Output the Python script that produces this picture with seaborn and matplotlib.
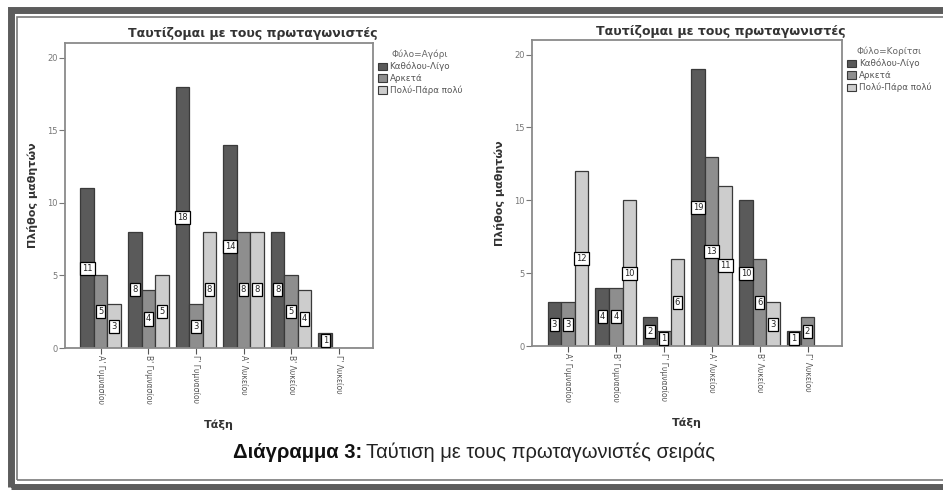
import pandas as pd
import numpy as np
import matplotlib.pyplot as plt
import seaborn as sns
from matplotlib.patches import Rectangle, Patch

# Data
classes = ["Α' Γυμνασίου", "Β' Γυμνασίου", "Γ' Γυμνασίου",
           "Α' Λυκείου", "Β' Λυκείου", "Γ' Λυκείου"]
levels = ["Καθόλου-Λίγο", "Αρκετά", "Πολύ-Πάρα πολύ"]

boys_little = [11, 8, 18, 14, 8, 1]
boys_enough = [5, 4, 3, 8, 5, 0]
boys_much = [3, 5, 8, 8, 4, 0]

girls_little = [3, 4, 2, 19, 10, 1]
girls_enough = [3, 4, 1, 13, 6, 2]
girls_much = [12, 10, 6, 11, 3, 0]

y_ticks = [0, 5, 10, 15, 20]
colors = ["#5a5a5a", "#8e8e8e", "#cdcdcd"]

sns.set_style("white")
plt.rcParams['font.family'] = ['DejaVu Sans']

W, H = 943, 490
fig = plt.figure(figsize=(W / 100, H / 100), dpi=100)


def frac(x, y):
    return x / W, 1 - y / H


def make_df(little, enough, much):
    rows = []
    for lev, vals in zip(levels, [little, enough, much]):
        for c, v in zip(classes, vals):
            rows.append({"Τάξη": c, "Επίπεδο": lev, "Πλήθος": v})
    return pd.DataFrame(rows)


def draw_panel(rect, df, legend_title, title_x, title_y):
    ax = fig.add_axes(rect)
    sns.barplot(data=df, x="Τάξη", y="Πλήθος", hue="Επίπεδο",
                hue_order=levels, order=classes, palette=colors,
                width=0.85, edgecolor="#3a3a3a", linewidth=0.9,
                ax=ax, legend=False)
    for cont, lev in zip(ax.containers, levels):
        vals = df[df["Επίπεδο"] == lev]["Πλήθος"].tolist()
        labs = [str(v) if v > 0 else "" for v in vals]
        ax.bar_label(cont, labels=labs, label_type="center", fontsize=6,
                     color="#222222",
                     bbox=dict(boxstyle="square,pad=0.25", fc="white",
                               ec="black", lw=0.9))
    ax.set_ylim(0, 21)
    ax.set_xlim(-0.75, 5.72)
    ax.set_yticks(y_ticks)
    ax.tick_params(axis="y", labelsize=6, colors="#777777", length=4,
                   width=0.8, left=True, pad=1)
    ax.tick_params(axis="x", labelsize=5.5, colors="#555555", length=4,
                   width=0.8, bottom=True, pad=1)
    for lab in ax.get_xticklabels():
        lab.set_rotation(270)
        lab.set_va("top")
        lab.set_ha("center")
    for s in ax.spines.values():
        s.set_color("#8a8a8a")
        s.set_linewidth(1.3)
    ax.set_ylabel("Πλήθος μαθητών", fontsize=8, fontweight="bold",
                  color="#333333", labelpad=7)
    ax.set_xlabel("Τάξη", fontsize=8, fontweight="bold", color="#333333",
                  labelpad=11)
    handles = [Patch(facecolor=c, edgecolor="#3a3a3a", lw=0.8) for c in colors]
    leg = ax.legend(handles, levels, title=legend_title, loc="upper left",
                    bbox_to_anchor=(1.0, 0.995), frameon=False, fontsize=6.3,
                    title_fontsize=6.5, handlelength=1.0, handleheight=0.9,
                    handletextpad=0.3, labelspacing=0.3, borderaxespad=0.2)
    leg.get_title().set_color("#666666")
    for t in leg.get_texts():
        t.set_color("#555555")
    fig.text(*frac(title_x, title_y), "Ταυτίζομαι με τους πρωταγωνιστές",
             ha="center", va="center", fontsize=9, fontweight="bold",
             color="#333333")
    return ax


l, top = frac(65, 43)
_, bot = frac(373, 348)
draw_panel([l, bot, 308 / W, top - bot], make_df(boys_little, boys_enough, boys_much),
           "Φύλο=Αγόρι", 253, 34)

l, top = frac(532, 40)
_, bot = frac(842, 346)
draw_panel([l, bot, 310 / W, top - bot], make_df(girls_little, girls_enough, girls_much),
           "Φύλο=Κορίτσι", 721, 32)

# caption
fig.text(*frac(362, 452), "Διάγραμμα 3:", ha="right", va="center",
         fontsize=14.5, fontweight="bold", family="Liberation Sans",
         color="#111111")
fig.text(*frac(366, 452), "Ταύτιση με τους πρωταγωνιστές σειράς", ha="left",
         va="center", fontsize=14.5, family="Liberation Sans", color="#222222")

# page frame
x0, y0 = frac(10.5, 486.5)
x1, y1 = frac(1000, 10.5)
fig.patches.append(Rectangle((x0, y0), x1 - x0, y1 - y0, transform=fig.transFigure,
                             fill=False, ec="#5c5c5c", lw=5.0, zorder=10))
x0, y0 = frac(17, 480)
x1, y1 = frac(1000, 17)
fig.patches.append(Rectangle((x0, y0), x1 - x0, y1 - y0, transform=fig.transFigure,
                             fill=False, ec="#7a7a7a", lw=1.2, zorder=10))

fig.savefig("out.png", dpi=100, facecolor="white")
